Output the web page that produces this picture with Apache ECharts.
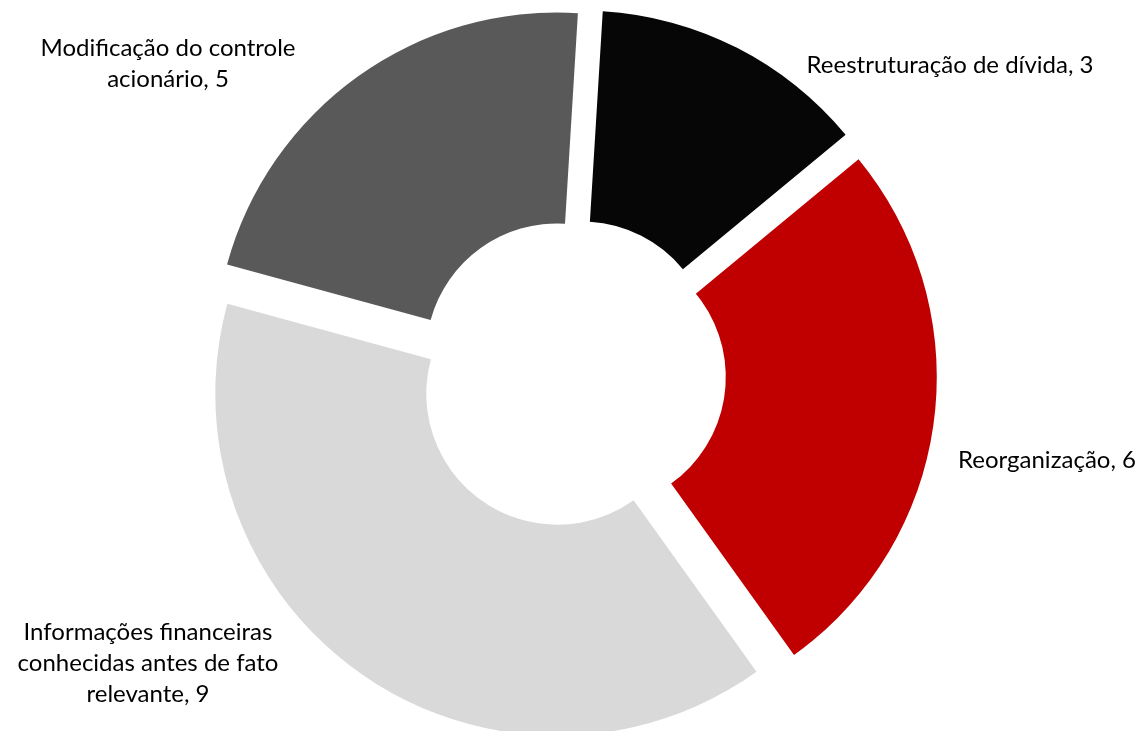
<!DOCTYPE html>
<html>
<head>
<meta charset="utf-8">
<script src="https://cdn.jsdelivr.net/npm/echarts@6/dist/echarts.min.js"></script>
<style>
  html, body { margin: 0; padding: 0; background: #fff; }
  #chart { width: 1142px; height: 731px; }
</style>
</head>
<body>
<div id="chart"></div>
<script>
// dados do gráfico
const categories = [
  'Reestruturação de dívida',
  'Reorganização',
  'Informações financeiras\nconhecidas antes de fato\nrelevante',
  'Modificação do controle\nacionário'
];
const values = [3, 6, 9, 5];
const colors = ['#060606', '#c00000', '#d9d9d9', '#595959'];

// centro de cada rótulo
const labelPos = [
  [950, 65],
  [1047, 460],
  [148, 663],
  [168, 64]
];

const chart = echarts.init(document.getElementById('chart'));

const option = {
  animation: false,
  // rótulos como texto solto, centrados na posição
  graphic: categories.map((name, i) => ({
    type: 'text',
    x: labelPos[i][0],
    y: labelPos[i][1],
    style: {
      text: name + ', ' + values[i],
      font: '24px Lato',
      lineHeight: 31,
      fill: '#000',
      align: 'center',
      verticalAlign: 'middle'
    }
  })),
  series: [
    {
      type: 'pie',
      center: [571, 374],
      radius: [131, 342],
      startAngle: 86.5,
      clockwise: true,
      selectedMode: 'multiple',
      selectedOffset: 24,
      emphasis: { disabled: true },
      label: { show: false },
      labelLine: { show: false },
      data: categories.map((name, i) => ({
        name: name,
        value: values[i],
        selected: true,
        itemStyle: { color: colors[i] }
      }))
    }
  ]
};

chart.setOption(option);
</script>
</body>
</html>
